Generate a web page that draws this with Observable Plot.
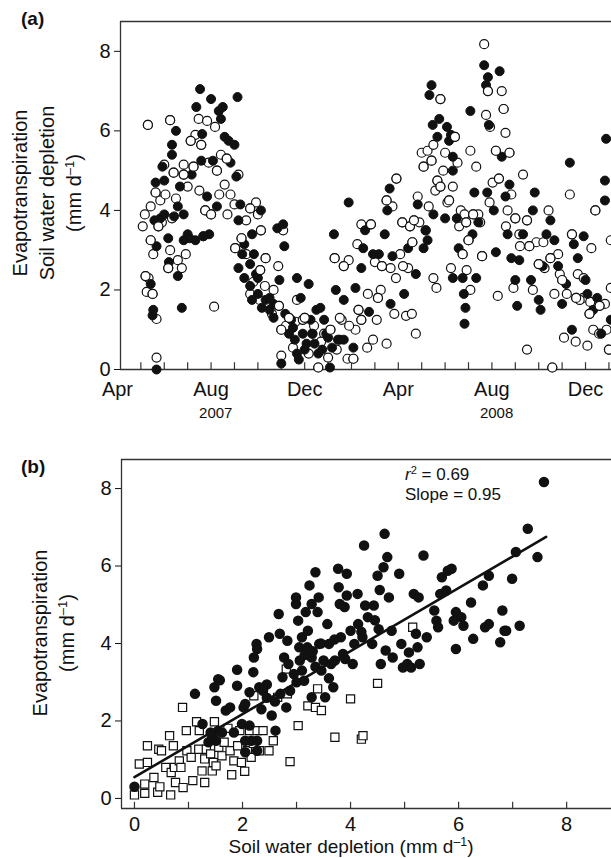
<!DOCTYPE html>
<html><head><meta charset="utf-8">
<script src="https://cdn.jsdelivr.net/npm/d3@7"></script>
<script src="https://cdn.jsdelivr.net/npm/@observablehq/plot@0.6"></script>
<style>
body{margin:0;background:#fff;font-family:"Liberation Sans",Arial,sans-serif;}
#wrap{position:relative;width:611px;height:858px;overflow:hidden;}
.ab{position:absolute;white-space:nowrap;color:#111;}
.rot{transform:translate(-50%,-50%) rotate(-90deg);text-align:center;font-size:20px;line-height:27px;}
sup{font-size:0.65em;vertical-align:0;position:relative;top:-0.55em;}
</style></head><body><div id="wrap"></div>
<script>
// Panel (a): month index (3 = Apr 2007), value mm/d
const etA = [[4.67,0],[4.5,1.36],[4.53,1.5],[4.42,2.15],[4.67,3.1],[4.63,4.7],[4.92,5.1],[5.0,4.75],[5.17,3.3],[5.2,2.7],[5.58,2.35],[5.75,1.55],[5.33,5.4],[5.5,6.0],[5.33,5.65],[5.67,4.6],[5.83,3.9],[6.0,3.4],[6.17,4.9],[6.37,6.6],[6.53,7.05],[6.62,5.92],[6.58,5.25],[6.83,4.35],[7.0,6.8],[7.08,5.25],[7.25,4.1],[7.33,6.5],[7.42,6.3],[7.5,6.6],[7.58,5.85],[7.75,5.75],[7.83,5.2],[8.0,5.65],[8.13,6.85],[8.08,4.85],[8.17,3.75],[8.25,4.15],[8.42,3.15],[8.67,2.65],[8.75,3.4],[8.92,2.4],[9.13,4.0],[8.42,2.3],[8.67,2.1],[9.0,1.9],[9.33,1.75],[9.5,1.5],[9.67,1.65],[9.83,3.55],[10.08,3.65],[10.13,3.1],[9.92,2.25],[10.0,0.15],[10.42,1.25],[10.67,2.3],[10.83,1.8],[10.58,0.75],[10.75,0.25],[11.0,0.5],[11.17,2.15],[11.33,0.9],[11.5,1.5],[11.58,0.4],[11.75,0.5],[11.92,0.9],[12.08,0.05],[12.25,3.4],[12.33,2.0],[12.5,0.75],[12.67,1.75],[12.88,4.2],[13.17,2.05],[13.08,0.55],[13.42,2.55],[13.58,3.5],[13.5,3.05],[13.75,1.45],[13.92,2.9],[14.17,2.9],[14.42,3.4],[14.53,4.0],[14.63,4.55],[14.67,1.65],[14.75,2.85],[15.25,1.9],[15.42,3.05],[15.75,2.4],[15.83,4.15],[16.08,3.05],[16.17,3.5],[16.25,3.25],[16.33,6.9],[16.42,7.15],[16.47,6.15],[16.67,5.85],[16.75,6.3],[16.5,3.9],[17.0,3.8],[17.08,6.1],[17.17,5.75],[17.25,5.9],[17.33,5.0],[17.33,2.3],[17.33,5.35],[17.5,3.8],[17.58,3.05],[17.75,2.3],[17.8,1.9],[17.83,1.15],[17.87,1.55],[18.0,3.25],[18.08,6.5],[18.17,3.4],[18.25,4.45],[18.33,2.3],[18.42,3.7],[18.67,7.65],[18.75,7.15],[18.83,7.35],[18.87,6.15],[18.8,4.45],[19.08,4.0],[19.17,2.95],[19.33,7.5],[19.42,5.35],[19.58,4.35],[19.67,3.4],[19.75,4.65],[19.83,2.8],[20.08,1.6],[20.0,2.25],[20.17,2.75],[20.33,3.4],[20.75,4.0],[20.83,4.45],[20.67,2.25],[21.0,1.75],[21.08,1.5],[21.17,2.6],[21.33,3.4],[21.5,3.75],[21.67,3.25],[21.83,2.6],[22.0,1.65],[22.17,2.15],[22.33,5.2],[22.42,1.0],[22.5,3.15],[22.67,2.8],[22.92,3.35],[23.0,2.25],[23.08,1.9],[23.33,1.5],[23.5,1.8],[23.67,0.9],[23.83,4.75],[23.88,5.8],[23.83,4.25],[24.08,1.25],
[5.83,3.25],[6.08,3.3],[6.33,3.25],[6.67,3.35],[6.92,3.4],[5.42,3.85],[5.58,4.1],[4.83,3.8],[4.58,3.75],[5.0,3.9],[8.17,2.55],[8.33,2.9],[8.83,2.9],[9.0,2.3],[8.75,1.75],[9.17,1.55],[9.5,1.8],[9.67,1.3],[10.17,1.4],[10.33,0.9],[10.5,1.05],[10.67,0.4],[10.92,0.9],[11.08,0.65],[11.25,1.25],[11.42,0.65],[11.67,1.55],[11.83,1.25],[12.0,0.8],[12.17,0.55],[12.42,0.75],[12.67,0.75]];
const swdA = [[4.3,6.15],[4.17,3.9],[4.08,3.6],[4.2,2.35],[4.33,2.3],[4.25,1.95],[4.5,1.9],[4.67,1.27],[4.67,0.3],[4.42,3.25],[4.53,2.9],[4.42,4.1],[4.63,4.45],[4.83,4.25],[5.0,5.15],[5.25,6.27],[5.33,3.8],[5.25,3.0],[5.17,2.55],[5.58,2.75],[5.75,2.55],[5.83,4.9],[5.92,2.9],[5.83,5.15],[6.13,5.75],[6.33,5.9],[6.47,6.3],[6.58,5.65],[6.67,3.35],[6.83,6.25],[6.75,4.0],[7.13,1.58],[7.17,6.1],[7.25,5.0],[7.42,5.4],[7.58,4.65],[7.67,5.3],[7.83,4.4],[8.0,4.15],[8.03,3.05],[8.17,4.9],[8.5,3.75],[8.67,4.05],[8.92,4.2],[9.0,3.9],[9.13,3.5],[8.67,1.9],[9.08,1.75],[9.33,2.8],[9.67,2.0],[9.87,2.6],[10.0,1.0],[10.08,3.5],[10.0,0.35],[10.33,1.3],[10.5,0.55],[10.67,1.75],[10.92,1.25],[11.17,0.4],[11.33,0.9],[11.58,0.05],[11.83,0.9],[12.0,0.3],[12.28,2.8],[12.37,0.5],[12.58,1.25],[12.67,2.6],[12.88,2.75],[12.83,0.27],[13.08,0.27],[13.17,1.0],[13.25,3.15],[13.42,1.25],[13.42,3.65],[13.67,0.55],[13.83,3.65],[13.92,0.75],[14.08,1.25],[14.13,1.8],[14.25,2.0],[14.5,0.65],[14.5,4.25],[14.67,2.55],[14.75,4.1],[14.92,4.8],[14.83,1.4],[15.08,2.9],[15.17,3.7],[15.33,1.35],[15.42,2.55],[15.5,3.6],[15.58,1.4],[15.75,0.9],[15.67,3.75],[15.83,4.35],[16.0,5.45],[16.08,5.1],[16.17,3.5],[16.25,5.5],[16.42,5.25],[16.5,5.65],[16.58,4.5],[16.67,4.75],[16.5,2.3],[16.63,2.05],[16.8,6.8],[16.92,5.0],[17.0,5.45],[17.17,4.25],[17.25,2.55],[17.33,4.6],[17.42,5.85],[17.53,5.2],[17.67,4.0],[17.75,2.9],[17.83,3.9],[17.92,2.5],[18.0,3.25],[18.08,2.0],[18.08,5.5],[18.2,3.9],[18.33,5.1],[18.42,3.9],[18.58,2.85],[18.67,8.18],[18.75,6.4],[18.83,7.0],[18.92,6.1],[19.03,4.7],[19.17,5.5],[19.25,1.85],[19.42,7.0],[19.5,6.55],[19.58,5.95],[19.67,4.0],[19.75,5.45],[19.83,4.4],[19.92,2.05],[20.0,3.8],[20.17,3.4],[20.33,4.9],[20.5,3.75],[20.5,0.5],[20.75,2.0],[21.0,2.65],[21.25,2.55],[21.42,4.0],[21.58,0.05],[21.67,1.9],[21.83,2.9],[22.0,2.25],[22.08,0.8],[22.33,4.4],[22.42,3.4],[22.58,0.7],[22.67,2.4],[22.75,1.75],[22.92,2.3],[23.08,0.6],[23.17,1.4],[23.25,3.05],[23.33,1.0],[23.42,4.0],[23.58,0.9],[23.83,1.65],[24.0,0.5],[24.08,3.25],[24.08,2.05],
[4.75,3.6],[4.9,3.7],[5.05,4.4],[5.4,4.95],[5.5,4.3],[6.0,4.6],[6.25,5.1],[6.5,4.5],[6.9,5.2],[7.0,3.9],[7.35,4.4],[7.7,3.9],[8.3,3.3],[8.5,2.9],[8.8,2.2],[9.1,2.5],[9.3,2.1],[9.6,1.4],[9.9,1.6],[10.2,1.1],[10.6,1.2],[11.0,1.3],[11.4,1.1],[11.7,0.7],[12.1,1.0],[12.5,1.3],[12.9,1.1],[13.3,1.5],[13.7,1.9],[14.0,2.7],[14.3,2.6],[14.9,2.3],[15.2,2.6],[15.6,3.2],[15.9,3.7],[16.3,4.1],[16.8,4.6],[17.1,4.2],[17.6,3.6],[17.9,3.7],[18.5,3.7],[18.9,4.2],[19.3,4.8],[19.6,3.6],[20.2,3.1],[20.6,3.1],[20.9,3.2],[21.2,3.2],[21.5,2.8],[21.9,2.4],[22.2,1.9],[22.6,1.8],[22.9,1.8],[23.2,1.7],[23.6,1.6],[23.9,1.0]];
const monthTicks = d3.range(4, 25);
const monthLabelPos = [3, 7, 11, 15, 19, 23];
const monthLabels = ["Apr", "Aug", "Dec", "Apr", "Aug", "Dec"];
const yearPos = [7.2, 19.2];
const yearLabels = ["2007", "2008"];
const yTicks = [0, 2, 4, 6, 8];

// Panel (b): soil water depletion vs evapotranspiration
const circB = [[0,0.3],[1.12,2.7],[1.48,2.87],[1.55,3.08],[1.58,3.05],[1.51,2.52],[1.55,1.75],[1.26,1.92],[1.44,1.58],[1.51,1.49],[1.62,1.7],[1.69,2.27],[1.77,2.35],[1.9,3.32],[1.9,2.91],[2.02,2.35],[2.05,2.44],[2.13,2.74],[2.2,3.26],[2.21,3.64],[2.26,3.99],[2.27,3.86],[2.13,1.88],[2.05,1.19],[2.16,1.49],[2.27,1.49],[2.31,2.87],[2.38,2.78],[2.45,2.94],[2.49,4.16],[2.54,2.14],[2.61,1.75],[2.67,4.76],[2.69,4.25],[2.7,2.7],[2.74,3.13],[2.77,3.64],[2.81,2.35],[2.83,4.07],[2.85,3.47],[2.88,2.78],[2.95,3.21],[2.99,5.19],[2.99,5.02],[3.03,4.59],[3.05,3.9],[3.06,3.56],[3.1,4.16],[3.14,3.04],[3.17,4.81],[3.21,4.33],[3.24,5.5],[3.28,5.02],[3.28,3.64],[3.28,2.61],[3.35,5.84],[3.39,4.81],[3.41,5.19],[3.42,3.99],[3.46,3.3],[3.5,3.56],[3.53,2.61],[3.57,4.5],[3.6,3.99],[3.64,3.47],[3.68,2.87],[3.71,3.56],[3.77,5.93],[3.78,5.45],[3.8,5.02],[3.82,4.16],[3.86,3.73],[3.89,4.94],[3.93,5.8],[3.93,5.24],[4.0,4.33],[4.04,3.47],[4.07,3.99],[4.13,5.28],[4.14,4.5],[4.22,4.16],[4.25,6.53],[4.27,4.98],[4.32,4.68],[4.4,3.99],[4.43,4.98],[4.5,5.75],[4.52,4.37],[4.54,5.38],[4.56,3.47],[4.61,5.97],[4.63,6.83],[4.65,3.82],[4.68,6.23],[4.71,5.19],[4.76,4.33],[4.78,3.64],[4.9,5.8],[4.94,3.99],[4.97,3.38],[5.05,3.47],[5.08,3.77],[5.12,3.38],[5.17,5.28],[5.21,4.25],[5.24,3.9],[5.26,5.19],[5.28,3.47],[5.35,6.27],[5.41,4.16],[5.55,4.85],[5.59,4.59],[5.62,4.42],[5.66,5.28],[5.69,5.71],[5.77,5.37],[5.8,5.88],[5.87,5.93],[5.91,4.59],[5.95,3.86],[5.95,4.81],[6.05,4.68],[6.09,4.46],[6.23,5.06],[6.27,4.12],[6.45,5.5],[6.49,4.42],[6.56,4.5],[6.56,5.75],[6.77,4.03],[6.81,4.85],[6.85,4.33],[6.88,4.33],[6.99,5.67],[7.06,6.36],[7.13,4.46],[7.28,6.96],[7.46,6.23],[7.58,8.17],[1.41,1.7],[1.37,1.45],[1.99,1.92],[1.84,1.7],[2.05,1.49],[2.27,1.23],[3.2,3.9],[3.3,3.8],[3.15,3.7],[3.35,3.4],[3.6,3.1],[3.9,3.6],[3.7,4.1],[2.6,2.5],[2.45,2.6],[2.35,2.3],[4.2,4.3],[4.45,4.6],[3.0,3.0],[3.1,3.3],[3.45,4.0]];
const sqB = [[0,0.09],[0.19,0.13],[0.19,0.37],[0.09,0.89],[0.24,0.93],[0.24,1.36],[0.36,0.54],[0.43,0.16],[0.45,1.27],[0.47,0.3],[0.5,1.23],[0.58,0.8],[0.65,1.62],[0.67,0.09],[0.68,0.67],[0.72,1.36],[0.74,0.8],[0.76,0.41],[0.83,0.97],[0.86,0.8],[0.89,2.35],[0.9,0.28],[0.96,1.75],[0.97,1.23],[1.05,1.06],[1.08,0.46],[1.15,1.98],[1.19,1.27],[1.2,1.75],[1.25,0.71],[1.3,0.41],[1.3,1.02],[1.33,1.27],[1.41,1.15],[1.44,0.71],[1.46,0.93],[1.48,1.98],[1.51,0.84],[1.56,1.32],[1.62,1.1],[1.66,1.45],[1.73,1.81],[1.77,1.23],[1.8,0.61],[1.84,0.97],[1.91,1.36],[1.95,1.75],[1.98,0.93],[2.04,0.7],[2.09,1.23],[2.13,1.75],[2.16,1.06],[2.2,1.42],[2.21,2.65],[2.27,1.75],[2.31,1.23],[2.38,1.75],[2.49,1.23],[2.57,1.49],[2.65,2.61],[2.81,3.34],[2.83,2.7],[2.88,0.95],[3.03,1.88],[3.21,2.39],[3.35,2.35],[3.39,2.83],[3.46,2.27],[3.71,1.58],[4.0,2.57],[4.2,1.53],[4.23,1.62],[4.5,2.97],[5.15,4.42]];
const fitLine = [[0, 0.55], [7.62, 6.75]];
const xTicksB = [0, 1, 2, 3, 4, 5, 6, 7, 8];
const xLabelsB = [0, 2, 4, 6, 8];

const wrap = document.getElementById("wrap");
const font = {fontFamily: "Liberation Sans, Arial, sans-serif", fontSize: "20px", color: "#111", background: "transparent"};

const pa = Plot.plot({
  width: 611, height: 430, marginLeft: 120, marginRight: 0, marginTop: 21, marginBottom: 61,
  style: font,
  x: {domain: [3.13, 24.11], axis: null},
  y: {domain: [0, 8.75], axis: null},
  marks: [
    Plot.axisY({ticks: yTicks, tickSize: 6, tickPadding: 4, fontSize: 20, label: null}),
    Plot.ruleX([3.13], {stroke: "#333", strokeWidth: 1.3}),
    Plot.ruleY([0], {stroke: "#333", strokeWidth: 1.3}),
    Plot.ruleY([8.75], {stroke: "#333", strokeWidth: 1.3}),
    Plot.ruleX(monthTicks, {x: d => d, y1: 0, y2: 0.17, stroke: "#333", strokeWidth: 1.2}),
    Plot.text(monthLabelPos, {x: d => d, y: 0, text: (d, i) => monthLabels[i], dy: 20, fontSize: 20}),
    Plot.text(yearPos, {x: d => d, y: 0, text: (d, i) => yearLabels[i], dy: 44, fontSize: 15}),
    Plot.dot(swdA, {x: "0", y: "1", r: 4.5, fill: "white", stroke: "#111", strokeWidth: 1.2}),
    Plot.dot(etA, {x: "0", y: "1", r: 4.5, fill: "#111", stroke: "#111", strokeWidth: 1}),
    Plot.dot(swdA.filter((d, i) => i % 3 === 0), {x: "0", y: "1", r: 4.5, fill: "white", stroke: "#111", strokeWidth: 1.2})
  ]
});
pa.style.position = "absolute"; pa.style.left = "0px"; pa.style.top = "0px";
wrap.appendChild(pa);

const pb = Plot.plot({
  width: 611, height: 428, marginLeft: 121, marginRight: 0, marginTop: 29, marginBottom: 50,
  style: font,
  x: {domain: [-0.24, 8.83], axis: null},
  y: {domain: [-0.26, 8.75], axis: null},
  marks: [
    Plot.axisY({ticks: yTicks, tickSize: 6, tickPadding: 4, fontSize: 20, label: null}),
    Plot.ruleX([-0.24], {stroke: "#333", strokeWidth: 1.3}),
    Plot.ruleY([-0.26], {stroke: "#333", strokeWidth: 1.3}),
    Plot.ruleY([8.75], {stroke: "#333", strokeWidth: 1.3}),
    Plot.ruleX(xTicksB, {x: d => d, y1: -0.26, y2: -0.1, stroke: "#333", strokeWidth: 1.2}),
    Plot.text(xLabelsB, {x: d => d, y: -0.26, text: d => String(d), dy: 16, fontSize: 20}),
    Plot.dot(sqB, {x: "0", y: "1", symbol: "square", r: 4.6, fill: "white", stroke: "#111", strokeWidth: 1.2}),
    Plot.dot(circB, {x: "0", y: "1", r: 4.5, fill: "#111", stroke: "#111"}),
    Plot.line(fitLine, {x: "0", y: "1", stroke: "#111", strokeWidth: 2.6})
  ]
});
pb.style.position = "absolute"; pb.style.left = "0px"; pb.style.top = "430px";
wrap.appendChild(pb);

function addText(html, css, cls) {
  const d = document.createElement("div");
  d.className = "ab " + (cls || "");
  d.innerHTML = html;
  Object.assign(d.style, css);
  wrap.appendChild(d);
}
addText("(a)", {left: "21px", top: "8px", fontSize: "19px", fontWeight: "bold"});
addText("(b)", {left: "21px", top: "456px", fontSize: "19px", fontWeight: "bold"});
addText("Evapotranspiration<br>Soil water depletion<br>(mm d<sup>–1</sup>)", {left: "48px", top: "193px"}, "rot");
addText("Evapotranspiration<br>(mm d<sup>–1</sup>)", {left: "55px", top: "633px"}, "rot");
addText("Soil water depletion (mm d<sup>–1</sup>)", {left: "351px", top: "837px", fontSize: "19px", lineHeight: "20px", transform: "translateX(-50%)"});
addText("<i>r</i><sup>2</sup> = 0.69", {left: "405px", top: "465px", fontSize: "17px"});
addText("Slope = 0.95", {left: "405px", top: "485px", fontSize: "17px"});
</script></body></html>
